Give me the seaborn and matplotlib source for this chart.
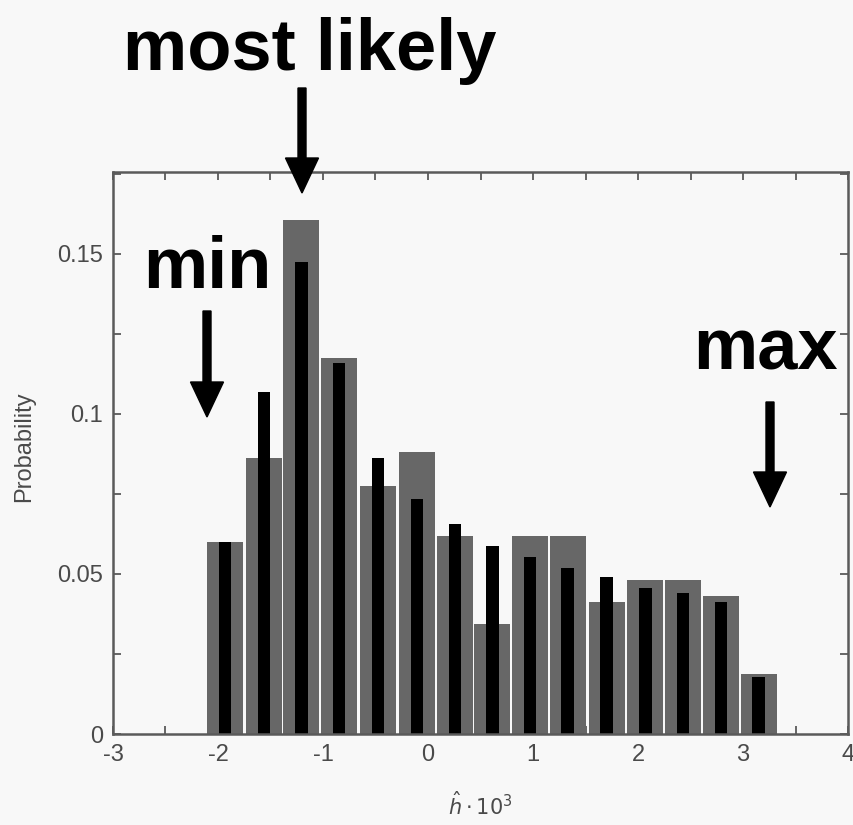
import matplotlib
matplotlib.use("Agg")
import matplotlib.pyplot as plt
from matplotlib.patches import FancyArrow
from matplotlib.transforms import IdentityTransform
from matplotlib.ticker import MultipleLocator
import seaborn as sns
import pandas as pd

# ---- data ----
bin_centers = [-1.933, -1.562, -1.205, -0.848, -0.476, -0.105, 0.257, 0.614,
               0.971, 1.329, 1.700, 2.071, 2.429, 2.790, 3.148]
prob_gray = [0.060, 0.0862, 0.1606, 0.1175, 0.0775, 0.088, 0.0619, 0.0344,
             0.0619, 0.0619, 0.0413, 0.048, 0.048, 0.0431, 0.0188]
prob_black = [0.060, 0.107, 0.1475, 0.116, 0.0862, 0.0734, 0.0656, 0.0587,
              0.0553, 0.0519, 0.0491, 0.0456, 0.0441, 0.0413, 0.0178]
x_ticks = [-3, -2, -1, 0, 1, 2, 3, 4]
y_ticks = [0, 0.05, 0.1, 0.15]
y_tick_labels = ["0", "0.05", "0.1", "0.15"]

sns.set_style("ticks")
plt.rcParams["font.family"] = ["Liberation Sans", "DejaVu Sans"]

BG = "#f8f8f8"
fig = plt.figure(figsize=(8.54, 8.25), dpi=100, facecolor=BG)
ax = fig.add_axes([0.1323, 0.1103, 0.8607, 0.6812])
ax.set_facecolor(BG)

df = pd.DataFrame({"h": bin_centers, "gray": prob_gray, "black": prob_black})

sns.barplot(data=df, x="h", y="gray", native_scale=True, width=0.96,
            color="#676767", saturation=1, errorbar=None, ax=ax,
            edgecolor="none", linewidth=0)
sns.barplot(data=df, x="h", y="black", native_scale=True, width=0.335,
            color="#000000", saturation=1, errorbar=None, ax=ax,
            edgecolor="none", linewidth=0)

ax.set_xlim(-3, 4)
ax.set_ylim(0, 0.1756)
ax.set_xticks(x_ticks)
ax.set_xticklabels([str(t) for t in x_ticks])
ax.xaxis.set_minor_locator(MultipleLocator(0.5))
ax.set_yticks(y_ticks)
ax.set_yticklabels(y_tick_labels)
ax.yaxis.set_minor_locator(MultipleLocator(0.025))

TC = "#4a4a4a"
for side in ["left", "right", "top", "bottom"]:
    ax.spines[side].set_visible(True)
    ax.spines[side].set_color("#5a5a5a")
    ax.spines[side].set_linewidth(1.8)
ax.tick_params(which="both", direction="in", top=True, right=True,
               length=6, width=1.3, color="#5a5a5a")
ax.tick_params(which="major", labelsize=17, labelcolor=TC, pad=7)

ax.set_ylabel("Probability", fontsize=17, color=TC)
ax.yaxis.set_label_coords(-0.106, 0.511)
ax.set_xlabel(r"$\hat{h}\cdot 10^3$", fontsize=15, color=TC)
ax.xaxis.set_label_coords(0.5, -0.102)

# ---- annotations ----
H = 825
fkw = dict(fontsize=52, fontweight="bold", color="black", ha="left", va="baseline")
fig.text(123 / 854, (H - 70) / H, "most likely", **fkw)
fig.text(143 / 854, (H - 288) / H, "min", **fkw)
fig.text(693 / 854, (H - 370) / H, "max", **fkw)

def arrow(x, y_tail, y_tip):
    a = FancyArrow(x, H - y_tail, 0, -(y_tip - y_tail), width=8,
                   head_width=33, head_length=35, length_includes_head=True,
                   color="black", transform=IdentityTransform())
    fig.add_artist(a)

arrow(302, 88, 193)
arrow(207, 311, 417)
arrow(770, 402, 507)

fig.savefig("out.png", dpi=100, facecolor=BG)
